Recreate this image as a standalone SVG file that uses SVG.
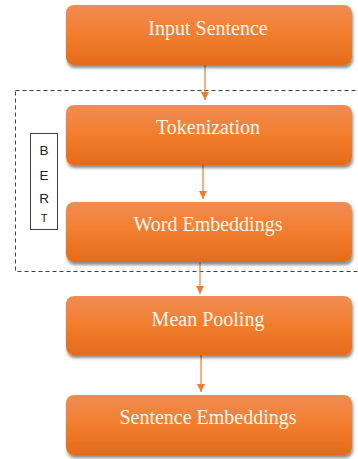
<svg xmlns="http://www.w3.org/2000/svg" width="358" height="459" viewBox="0 0 358 459">
<defs>
<linearGradient id="g" x1="0" y1="0" x2="0" y2="1">
<stop offset="0" stop-color="#F08C55"/>
<stop offset="0.45" stop-color="#F27F30"/>
<stop offset="1" stop-color="#E46B1B"/>
</linearGradient>
<filter id="sh" x="-10%" y="-20%" width="120%" height="150%">
<feGaussianBlur in="SourceAlpha" stdDeviation="1.6"/>
<feOffset dx="1" dy="2.5" result="b"/>
<feFlood flood-color="#000" flood-opacity="0.45"/>
<feComposite in2="b" operator="in"/>
<feMerge><feMergeNode/><feMergeNode in="SourceGraphic"/></feMerge>
</filter>
<marker id="ah" markerWidth="8" markerHeight="8" refX="8" refY="4" orient="auto" markerUnits="userSpaceOnUse">
<path d="M0,0 L8,4 L0,8 Z" fill="#ED7D31"/>
</marker>
<style>
.box{fill:url(#g);filter:url(#sh)}
.lbl{font-family:"Liberation Serif","Times New Roman",serif;font-size:20px;fill:#FFF6EE;text-anchor:middle}
.con{stroke:#ED7D31;stroke-width:1.2;fill:none;marker-end:url(#ah)}
.bert{font-family:"Liberation Sans",Arial,sans-serif;font-size:13.5px;fill:#222;text-anchor:middle}
</style>
</defs>
<rect x="15.5" y="90.5" width="350" height="181" fill="none" stroke="#404040" stroke-width="1" stroke-dasharray="4,3"/>
<g id="bert">
<rect x="30.5" y="133.5" width="27" height="96" fill="#fff" stroke="#404040" stroke-width="1"/>
<text class="bert" x="44" y="155">B</text>
<text class="bert" x="44" y="180">E</text>
<text class="bert" x="44" y="203">R</text>
<text class="bert" x="44" y="222" style="font-size:11px">T</text>
</g>
<g id="connectors">
<line class="con" x1="205" y1="65" x2="205" y2="100"/>
<line class="con" x1="203" y1="165" x2="203" y2="199"/>
<line class="con" x1="200" y1="262" x2="200" y2="294"/>
<line class="con" x1="201" y1="355" x2="201" y2="392"/>
</g>
<g id="n1"><rect class="box" x="66" y="5" width="286" height="60" rx="8"/><text class="lbl" x="208" y="35">Input Sentence</text></g>
<g id="n2"><rect class="box" x="66" y="105" width="286" height="60" rx="8"/><text class="lbl" x="208" y="134">Tokenization</text></g>
<g id="n3"><rect class="box" x="66" y="202" width="286" height="60" rx="8"/><text class="lbl" x="208" y="231">Word Embeddings</text></g>
<g id="n4"><rect class="box" x="66" y="296" width="286" height="59" rx="8"/><text class="lbl" x="208" y="326">Mean Pooling</text></g>
<g id="n5"><rect class="box" x="66" y="395" width="286" height="60" rx="8"/><text class="lbl" x="208" y="424">Sentence Embeddings</text></g>
</svg>
